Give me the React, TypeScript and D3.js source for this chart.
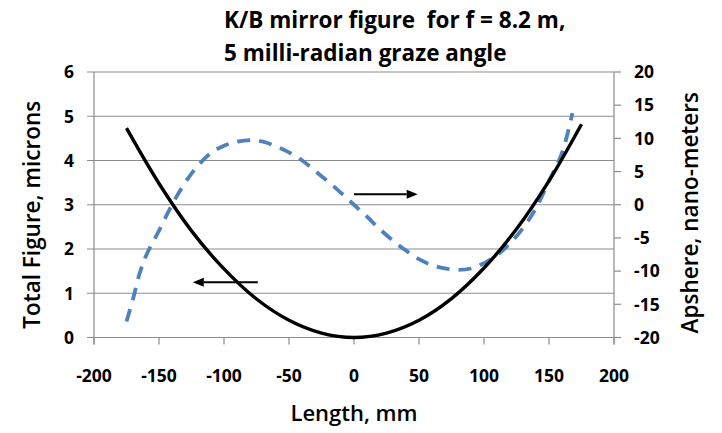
import React from "react";
import * as d3 from "d3";

const W = 722;
const H = 433;

const titleLines = ["K/B mirror figure  for f = 8.2 m,", "5 milli-radian graze angle"];
const xTitle = "Length, mm";
const yLeftTitle = "Total Figure, microns";
const yRightTitle = "Apshere, nano-meters";

const xTicks = [-200, -150, -100, -50, 0, 50, 100, 150, 200];
const yLeftTicks = [0, 1, 2, 3, 4, 5, 6];
const yRightTicks = [-20, -15, -10, -5, 0, 5, 10, 15, 20];

// Total figure (microns) vs length (mm)
const figX = [-175, -150, -125, -100, -75, -50, -25, 0, 25, 50, 75, 100, 125, 150, 175];
const figY = [4.73, 3.48, 2.41, 1.55, 0.87, 0.39, 0.1, 0, 0.1, 0.39, 0.88, 1.57, 2.45, 3.54, 4.82];

// Asphere (nm) vs length (mm)
const aspX = [-175, -170, -165, -160, -150, -140, -130, -120, -110, -100, -90, -80, -70, -60, -50, -40, -30, -20, -10, 0, 10, 20, 30, 40, 50, 60, 70, 80, 90, 100, 110, 120, 130, 140, 150, 160, 168];
const aspY = [-17.6, -14.2, -10.4, -7.7, -3.9, 0, 3.3, 5.9, 7.8, 8.9, 9.5, 9.75, 9.5, 8.8, 7.9, 6.7, 5.1, 3.5, 1.8, 0, -1.8, -3.7, -5.4, -6.9, -8.2, -9.1, -9.6, -9.8, -9.6, -8.8, -7.6, -5.8, -3.5, -0.5, 3.6, 7.8, 13.8];

// annotation arrows: [x from, x to, y]
const leftArrow = [-74, -124, 1.25];
const rightArrow = [0, 49, 1.6];

const FONT = "'Open Sans', 'Noto Sans', sans-serif";

export default function App() {
  const left = 94, right = 614, top = 72, bottom = 337.5;
  const x = d3.scaleLinear().domain([-200, 200]).range([left, right]);
  const yL = d3.scaleLinear().domain([0, 6]).range([bottom, top]);
  const yR = d3.scaleLinear().domain([-20, 20]).range([bottom, top]);

  const figLine = d3
    .line<number>()
    .x((_, i) => x(figX[i]))
    .y((d) => yL(d))
    .curve(d3.curveCatmullRom.alpha(0.5));
  const aspLine = d3
    .line<number>()
    .x((_, i) => x(aspX[i]))
    .y((d) => yR(d))
    .curve(d3.curveCatmullRom.alpha(0.5));

  const grid = "#8c8c8c";

  const arrow = (x1: number, x2: number, yy: number, key: string) => {
    const dir = Math.sign(x2 - x1);
    const head = 11;
    return (
      <g key={key}>
        <line x1={x1} x2={x2 - dir * head} y1={yy} y2={yy} stroke="#000" strokeWidth={2} />
        <path d={`M${x2},${yy} L${x2 - dir * head},${yy - 4.5} L${x2 - dir * head},${yy + 4.5} Z`} fill="#000" />
      </g>
    );
  };

  return (
    <svg width={W} height={H} style={{ position: "absolute", left: 0, top: 0, background: "#fff" }} fontFamily={FONT}>
      <rect width={W} height={H} fill="#fff" />
      {/* title */}
      <text x={224} y={28} fontSize={22.5} fontWeight={700} fill="#000" style={{ whiteSpace: "pre" }}>{titleLines[0]}</text>
      <text x={224} y={61} fontSize={22.5} fontWeight={700} fill="#000" style={{ whiteSpace: "pre" }}>{titleLines[1]}</text>

      {/* gridlines + left ticks */}
      {yLeftTicks.map((t) => (
        <line key={"g" + t} x1={left - 7} x2={right} y1={yL(t)} y2={yL(t)} stroke={grid} strokeWidth={1.2} />
      ))}
      {/* axes */}
      <line x1={left} x2={left} y1={top} y2={bottom + 7} stroke={grid} strokeWidth={1.2} />
      <line x1={right} x2={right} y1={top} y2={bottom + 7} stroke={grid} strokeWidth={1.2} />
      {xTicks.map((t) => (
        <line key={"xt" + t} x1={x(t)} x2={x(t)} y1={bottom} y2={bottom + 7} stroke={grid} strokeWidth={1.2} />
      ))}
      {yRightTicks.map((t) => (
        <line key={"rt" + t} x1={right} x2={right + 7} y1={yR(t)} y2={yR(t)} stroke={grid} strokeWidth={1.2} />
      ))}

      {/* tick labels */}
      {yLeftTicks.map((t) => (
        <text key={"yl" + t} x={left - 20} y={yL(t)} dy="0.36em" textAnchor="end" fontSize={17.5} fontWeight={700}>{t}</text>
      ))}
      {yRightTicks.map((t) => (
        <text key={"yr" + t} x={right + 20} y={yR(t)} dy="0.36em" textAnchor="start" fontSize={17.5} fontWeight={700}>{t}</text>
      ))}
      {xTicks.map((t) => (
        <text key={"xl" + t} x={x(t)} y={382} textAnchor="middle" fontSize={17.5} fontWeight={700}>{t}</text>
      ))}

      {/* axis titles */}
      <text x={x(0)} y={421} textAnchor="middle" fontSize={22} fontWeight={600}>{xTitle}</text>
      <text transform={`translate(40,${(top + bottom) / 2 + 10}) rotate(-90)`} textAnchor="middle" fontSize={22.5} fontWeight={600}>{yLeftTitle}</text>
      <text transform={`translate(698,${(top + bottom) / 2 + 8}) rotate(-90)`} textAnchor="middle" fontSize={22.5} fontWeight={600}>{yRightTitle}</text>

      {/* series */}
      <path d={aspLine(aspY) || ""} fill="none" stroke="#4f81bd" strokeWidth={3.8} strokeDasharray="13 9" />
      <path d={figLine(figY) || ""} fill="none" stroke="#000" strokeWidth={3.4} />

      {/* arrows */}
      {arrow(x(leftArrow[0]), x(leftArrow[1]), yL(leftArrow[2]), "la")}
      {arrow(x(rightArrow[0]), x(rightArrow[1]), yR(rightArrow[2]), "ra")}
    </svg>
  );
}
